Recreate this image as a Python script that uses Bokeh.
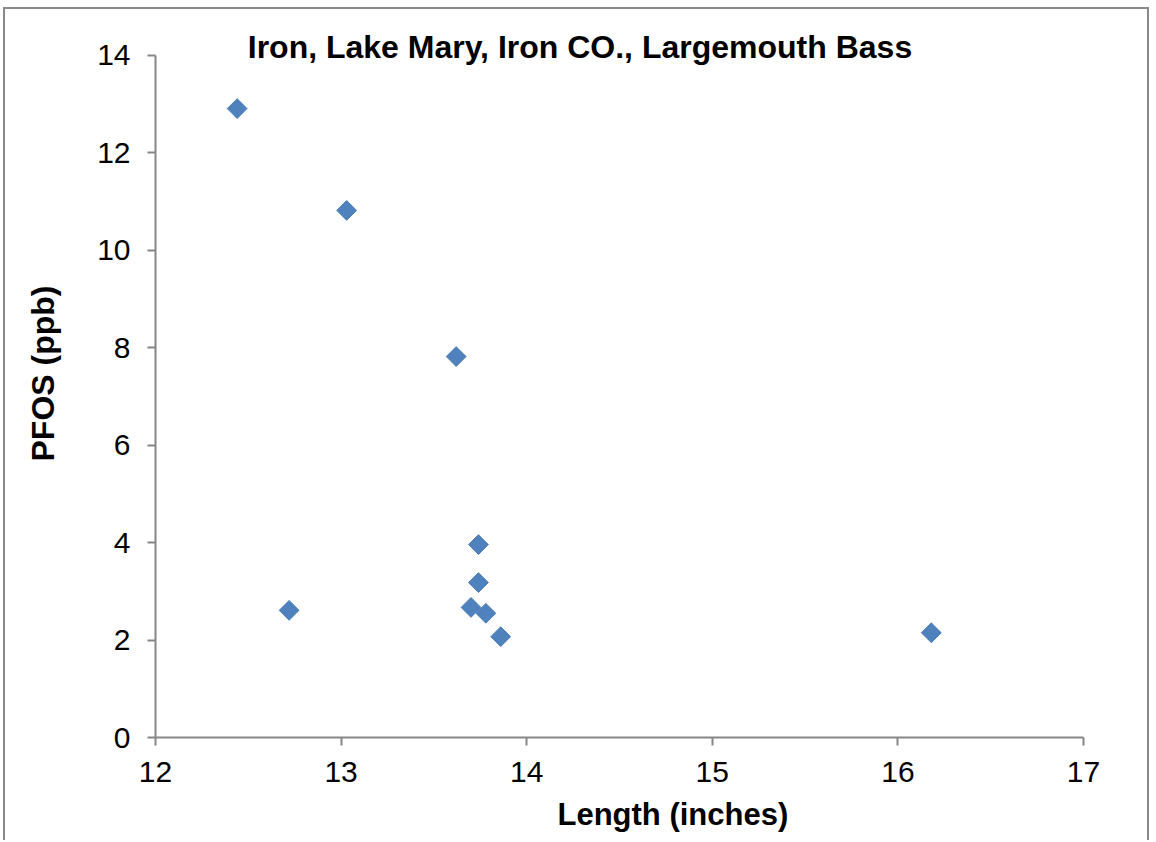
import math
from bokeh.plotting import figure
from bokeh.models import Range1d, Label, FixedTicker, Title
from bokeh.embed import file_html
from bokeh.resources import INLINE

# Data
length_in = [12.44, 13.03, 13.62, 13.74, 13.74, 13.70, 13.78, 13.86, 12.72, 16.18]
pfos_ppb = [12.91, 10.82, 7.82, 3.96, 3.18, 2.67, 2.55, 2.07, 2.61, 2.15]

x_ticks = [12, 13, 14, 15, 16, 17]
y_ticks = [0, 2, 4, 6, 8, 10, 12, 14]

title_text = "Iron, Lake Mary, Iron CO., Largemouth Bass"
x_label = "Length (inches)"
y_label = "PFOS (ppb)"

FONT = "Liberation Sans"
AXIS_COLOR = "#868686"

p = figure(width=1146, height=833, output_backend="svg", toolbar_location=None,
           x_range=Range1d(12, 17), y_range=Range1d(0, 14.944),
           min_border_left=150, min_border_right=68, min_border_top=0, min_border_bottom=105)
p.outline_line_color = None
p.xgrid.visible = False
p.ygrid.visible = False
p.background_fill_color = "white"
p.border_fill_color = "white"
p.styles = {"border-top": "2px solid #898989", "border-left": "2px solid #898989",
            "border-right": "2px solid #898989", "margin": "7px 0px 0px 3px"}

for ax, ticks in ((p.xaxis[0], x_ticks), (p.yaxis[0], y_ticks)):
    ax.ticker = FixedTicker(ticks=ticks)
    ax.axis_line_color = AXIS_COLOR
    ax.axis_line_width = 2
    ax.major_tick_line_color = AXIS_COLOR
    ax.major_tick_line_width = 2
    ax.major_tick_in = 0
    ax.major_tick_out = 8
    ax.minor_tick_line_color = None
    ax.major_label_text_font = FONT
    ax.major_label_text_font_size = "30px"
    ax.major_label_text_color = "black"

p.yaxis[0].bounds = (0, 14)
p.yaxis[0].major_label_standoff = 17
p.xaxis[0].major_label_standoff = 16
p.xaxis[0].major_label_text_line_height = 1.0

p.yaxis[0].axis_label = y_label
p.yaxis[0].axis_label_text_font = FONT
p.yaxis[0].axis_label_text_font_size = "32px"
p.yaxis[0].axis_label_text_font_style = "bold"
p.yaxis[0].axis_label_text_color = "black"
p.yaxis[0].axis_label_standoff = 33

p.scatter(length_in, pfos_ppb, marker="square", size=14, angle=math.pi / 4,
          fill_color="#4F81BD", line_color="#4A7EBB", line_width=1)

p.add_layout(Label(x=14.287, y=14.164, text=title_text, text_font=FONT,
                   text_font_size="32px", text_font_style="bold",
                   text_align="center", text_baseline="middle", text_color="black"))

p.add_layout(Title(text=x_label, align="left", offset=402, standoff=20,
                   text_font=FONT, text_font_size="31px", text_font_style="bold",
                   text_line_height=1.0, text_color="black"), "below")

open("out.html", "w").write(file_html(p, INLINE))
